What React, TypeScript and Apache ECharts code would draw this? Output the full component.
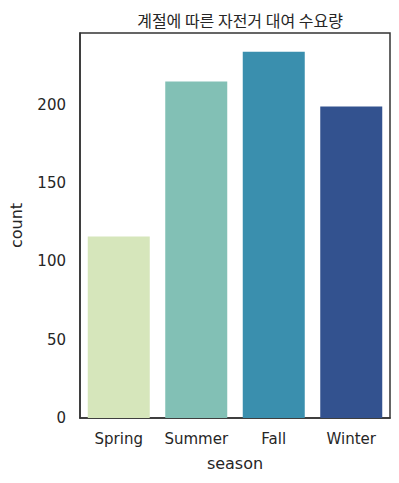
import React, { useEffect, useRef } from "react";
import * as echarts from "echarts";

const categories = ["Spring", "Summer", "Fall", "Winter"];
const counts = [116, 215, 234, 199];
const barColors = ["#d6e6bb", "#82c0b5", "#3a8fae", "#33528f"];
const yMax = 246;

export default function App() {
  const ref = useRef<HTMLDivElement>(null);
  useEffect(() => {
    if (!ref.current) return;
    const chart = echarts.init(ref.current, null, { renderer: "svg" });
    const font = "'DejaVu Sans', sans-serif";
    chart.setOption({
      animation: false,
      backgroundColor: "#ffffff",
      title: {
        text: "계절에 따른 자전거 대여 수요량",
        left: 235,
        textAlign: "center",
        top: 7,
        textStyle: { fontFamily: "'Noto Sans CJK KR', sans-serif", fontSize: 16, fontWeight: "normal", color: "#262626" },
      },
      grid: {
        left: 80,
        right: 9,
        top: 33,
        bottom: 65,
        show: true,
        borderColor: "#333333",
        borderWidth: 1.5,
        backgroundColor: "transparent",
      },
      xAxis: {
        type: "category",
        data: categories,
        name: "season",
        nameLocation: "middle",
        nameGap: 37,
        nameTextStyle: { fontFamily: font, fontSize: 16, color: "#262626" },
        axisLine: { show: true, lineStyle: { color: "#333333", width: 1.5 } },
        axisTick: { show: false },
        axisLabel: { fontFamily: font, fontSize: 15, color: "#262626", margin: 13, interval: 0, hideOverlap: false },
      },
      yAxis: {
        type: "value",
        min: 0,
        max: yMax,
        interval: 50,
        name: "count",
        nameLocation: "middle",
        nameGap: 56,
        nameTextStyle: { fontFamily: font, fontSize: 16, color: "#262626" },
        axisLine: { show: true, lineStyle: { color: "#333333", width: 1.5 } },
        axisTick: { show: false },
        splitLine: { show: false },
        axisLabel: { fontFamily: font, fontSize: 15, color: "#262626", margin: 14, showMaxLabel: false },
      },
      series: [
        {
          type: "bar",
          data: counts.map((v, i) => ({ value: v, itemStyle: { color: barColors[i] } })),
          barCategoryGap: "20%",
        },
      ],
    });
    return () => chart.dispose();
  }, []);
  return (
    <div
      ref={ref}
      style={{ position: "fixed", left: 0, top: 0, width: 399, height: 483 }}
    />
  );
}
